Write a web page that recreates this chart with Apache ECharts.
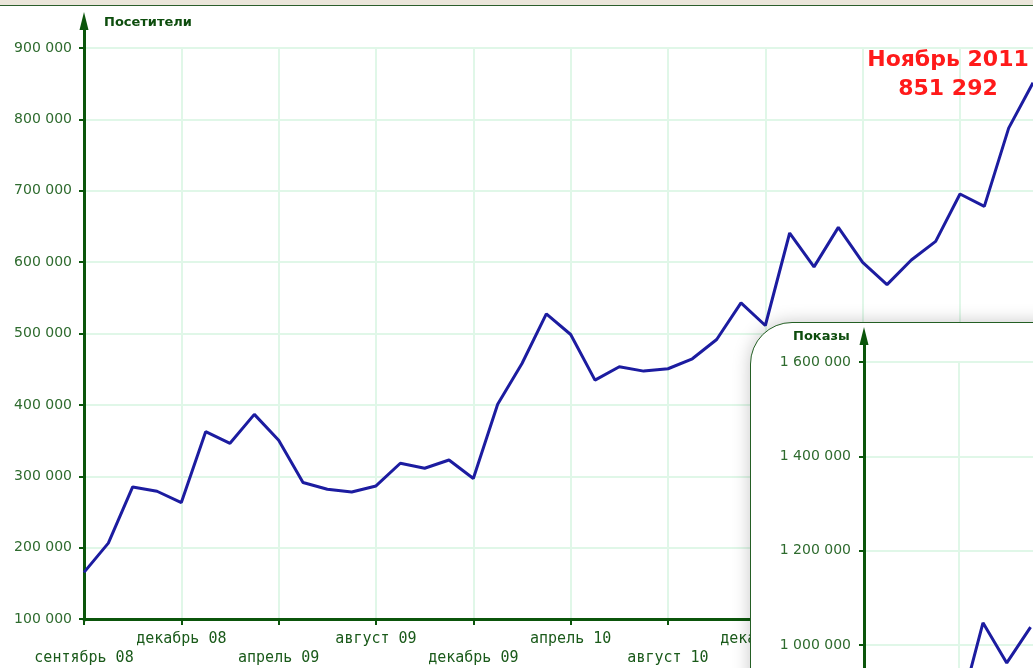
<!DOCTYPE html>
<html>
<head>
<meta charset="utf-8">
<script src="https://cdn.jsdelivr.net/npm/echarts@6/dist/echarts.min.js"></script>
<style>
html, body { margin: 0; padding: 0; width: 1033px; height: 668px; overflow: hidden; background: #fff; }
#topbar { position: absolute; left: 0; top: 0; width: 1033px; height: 5px; background: #ebe6da; border-bottom: 1px solid #2c5e2c; z-index: 3; }
#main { position: absolute; left: 0; top: 0; width: 1033px; height: 668px; }
#inset { position: absolute; left: 750px; top: 322px; width: 1150px; height: 700px; background: #fff;
  border: 1px solid #245f24; border-radius: 42px 0 0 0; box-shadow: 0 0 18px rgba(0,0,0,0.22); overflow: hidden; z-index: 2; }
</style>
</head>
<body>
<div id="topbar"></div>
<div id="main"></div>
<div id="inset"></div>
<script>
// месяцы: август 2008 - ноябрь 2011
var months = ['08.2008','09.2008','10.2008','11.2008','12.2008',
  '01.2009','02.2009','03.2009','04.2009','05.2009','06.2009','07.2009','08.2009','09.2009','10.2009','11.2009','12.2009',
  '01.2010','02.2010','03.2010','04.2010','05.2010','06.2010','07.2010','08.2010','09.2010','10.2010','11.2010','12.2010',
  '01.2011','02.2011','03.2011','04.2011','05.2011','06.2011','07.2011','08.2011','09.2011','10.2011','11.2011'];
var xTickLabels = ['сентябрь 08','декабрь 08','апрель 09','август 09','декабрь 09','апрель 10','август 10','декабрь 10','апрель 11','август 11'];
// посетители
var visitors = [165300, 206300, 285000, 279000, 263200, 362500, 346200, 386700, 350300, 291200,
  281800, 278000, 286400, 318200, 311200, 322800, 296800, 401000, 458000, 527500,
  498600, 434700, 453400, 447300, 450600, 464600, 491600, 543000, 511200, 640800,
  593300, 648700, 599700, 568500, 603000, 629100, 695400, 678100, 787700, 851292];
var peakLabel = 'Ноябрь 2011';
// показы (видна только часть)
var shows = [null, null, null, null, 855000, 1047000, 962000, 1038000];

var green = '#0b550b';
var gridGreen = '#e0f7e8';

function fmt(v) {
  return String(v).replace(/\B(?=(\d{3})+(?!\d))/g, ' ');
}

// основной график
var myChart = echarts.init(document.getElementById('main'));
var lastIdx = visitors.length - 1;
var visData = visitors.map(function (v, i) {
  if (i !== lastIdx) return v;
  return {
    value: v,
    label: {
      show: true, position: 'inside', offset: [-85, -8],
      formatter: peakLabel + '\n' + fmt(v),
      fontFamily: 'DejaVu Sans', fontWeight: 'bold', fontSize: 22, lineHeight: 29,
      color: '#ff1a1a', align: 'center'
    }
  };
});

var option = {
  animation: false,
  title: {
    text: 'Посетители', left: 104, top: 16, padding: 0,
    textStyle: { fontFamily: 'DejaVu Sans', fontWeight: 'bold', fontSize: 13, color: '#0d4d0d' }
  },
  grid: [
    { left: 84, top: 48, bottom: 48, right: -3 },
    { left: 84, top: 21, bottom: 48, right: -3 }   // ось со стрелкой
  ],
  xAxis: [{
    type: 'category', gridIndex: 0, data: months, boundaryGap: false,
    axisLine: { lineStyle: { color: green, width: 3 } },
    axisTick: { interval: 3, length: 6, lineStyle: { color: green, width: 2 } },
    axisLabel: {
      interval: 3, margin: 11, lineHeight: 19,
      fontFamily: 'DejaVu Sans Mono', fontSize: 15, color: '#1a5a1a',
      formatter: function (value, index) {
        var k = index / 4;
        var t = xTickLabels[k] || '';
        return k % 2 === 0 ? '\n' + t : t + '\n';
      }
    },
    splitLine: { show: true, interval: 3, lineStyle: { color: gridGreen, width: 2 } }
  }, {
    type: 'category', gridIndex: 1, data: months, show: false
  }],
  yAxis: [{
    type: 'value', gridIndex: 0, min: 100000, max: 900000, interval: 100000,
    axisLine: { show: true, lineStyle: { color: green, width: 3 } },
    axisTick: { show: true, length: 5, lineStyle: { color: green, width: 2 } },
    axisLabel: { margin: 12, fontFamily: 'DejaVu Sans', fontSize: 14, color: '#2e6b2e', formatter: fmt },
    splitLine: { show: true, lineStyle: { color: gridGreen, width: 2 } }
  }, {
    type: 'value', gridIndex: 1, min: 0, max: 1,
    axisLine: { show: true, symbol: ['none', 'triangle'], symbolSize: [9, 18], lineStyle: { color: green, width: 3 } },
    axisTick: { show: false }, axisLabel: { show: false }, splitLine: { show: false }
  }],
  series: [{
    name: 'Посетители', type: 'line', xAxisIndex: 0, yAxisIndex: 0,
    data: visData, symbolSize: 0, showAllSymbol: true,
    lineStyle: { color: '#1c1ca0', width: 3 },
    itemStyle: { color: '#1c1ca0' }
  }]
};
myChart.setOption(option);

// врезка "Показы"
var myChart2 = echarts.init(document.getElementById('inset'));
var option2 = {
  animation: false,
  title: {
    text: 'Показы', left: 42, top: 7, padding: 0,
    textStyle: { fontFamily: 'DejaVu Sans', fontWeight: 'bold', fontSize: 13, color: '#0d4d0d' }
  },
  grid: [
    { left: 113, top: 39, height: 566, width: 928 },
    { left: 113, top: 13, height: 592, width: 928 }
  ],
  xAxis: [{
    type: 'category', gridIndex: 0, data: months, boundaryGap: false,
    axisLine: { lineStyle: { color: green, width: 3 } },
    axisTick: { interval: 3, length: 6, lineStyle: { color: green, width: 2 } },
    axisLabel: { show: false },
    splitLine: { show: true, interval: 3, lineStyle: { color: gridGreen, width: 2 } }
  }, {
    type: 'category', gridIndex: 1, data: months, show: false
  }],
  yAxis: [{
    type: 'value', gridIndex: 0, min: 400000, max: 1600000, interval: 200000,
    axisLine: { show: true, lineStyle: { color: green, width: 3 } },
    axisTick: { show: true, length: 5, lineStyle: { color: green, width: 2 } },
    axisLabel: { margin: 13, fontFamily: 'DejaVu Sans', fontSize: 14, color: '#2e6b2e', formatter: fmt },
    splitLine: { show: true, lineStyle: { color: gridGreen, width: 2 } }
  }, {
    type: 'value', gridIndex: 1, min: 0, max: 1,
    axisLine: { show: true, symbol: ['none', 'triangle'], symbolSize: [9, 18], lineStyle: { color: green, width: 3 } },
    axisTick: { show: false }, axisLabel: { show: false }, splitLine: { show: false }
  }],
  series: [{
    name: 'Показы', type: 'line', xAxisIndex: 0, yAxisIndex: 0,
    data: shows, showSymbol: false, connectNulls: false,
    lineStyle: { color: '#1c1ca0', width: 3 }
  }]
};
myChart2.setOption(option2);
</script>
</body>
</html>
